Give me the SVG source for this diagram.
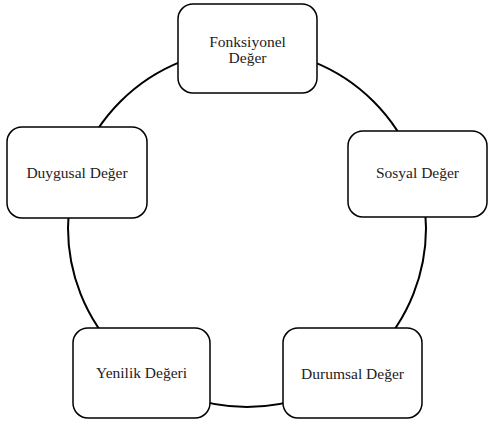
<svg xmlns="http://www.w3.org/2000/svg" width="495" height="429" viewBox="0 0 495 429">
<style>
.box{fill:#fff;stroke:#000;stroke-width:1.5}
.lbl{font-family:"Liberation Serif","Times New Roman",serif;font-size:15.5px;fill:#222;text-anchor:middle}
.ring{fill:none;stroke:#000;stroke-width:2}
</style>
<rect width="495" height="429" fill="#fff"/>
<g id="connectors">
<circle class="ring" cx="247" cy="228" r="179"/>
</g>
<g id="fonksiyonel">
<rect class="box" x="178" y="4" width="139" height="89" rx="15"/>
<text class="lbl" x="247.5" y="47">Fonksiyonel</text>
<text class="lbl" x="247.5" y="63">Değer</text>
</g>
<g id="sosyal">
<rect class="box" x="348" y="131" width="139" height="86" rx="15"/>
<text class="lbl" x="417.5" y="178">Sosyal Değer</text>
</g>
<g id="durumsal">
<rect class="box" x="283" y="328" width="139" height="90" rx="15"/>
<text class="lbl" x="352.5" y="379">Durumsal Değer</text>
</g>
<g id="yenilik">
<rect class="box" x="73" y="328" width="137" height="90" rx="15"/>
<text class="lbl" x="141.5" y="378">Yenilik Değeri</text>
</g>
<g id="duygusal">
<rect class="box" x="7" y="127" width="140" height="91" rx="15"/>
<text class="lbl" x="77" y="178">Duygusal Değer</text>
</g>
</svg>
